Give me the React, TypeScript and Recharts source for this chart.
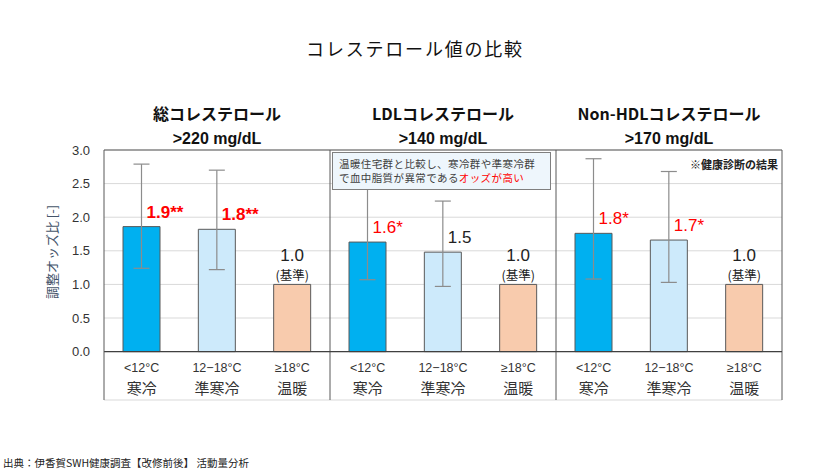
import {
  Bar,
  BarChart,
  CartesianGrid,
  Cell,
  ErrorBar,
  LabelList,
  ReferenceLine,
  XAxis,
  YAxis,
} from "recharts";

const FONT = "'Liberation Sans', 'Noto Sans CJK JP', sans-serif";
const JP = "'Noto Sans CJK JP', 'Liberation Sans', sans-serif";

// panels
const panelTitles = [
  ["総コレステロール", ">220 mg/dL"],
  ["LDLコレステロール", ">140 mg/dL"],
  ["Non-HDLコレステロール", ">170 mg/dL"],
];
const panelBold = [true, false, false];

// groups within each panel
const tempRanges = ["<12°C", "12−18°C", "≥18°C"];
const groupNames = ["寒冷", "準寒冷", "温暖"];
const groupColors = ["#00b0f0", "#cdeafb", "#f8cbad"];

// adjusted odds ratios and 95% CI
const totalOdds = [1.86, 1.82, 1.0];
const totalLow = [1.24, 1.22, null];
const totalHigh = [2.79, 2.7, null];
const totalLabels = ["1.9**", "1.8**", "1.0"];

const ldlOdds = [1.63, 1.48, 1.0];
const ldlLow = [1.07, 0.97, null];
const ldlHigh = [2.55, 2.24, null];
const ldlLabels = ["1.6*", "1.5", "1.0"];

const nonHdlOdds = [1.76, 1.66, 1.0];
const nonHdlLow = [1.08, 1.03, null];
const nonHdlHigh = [2.87, 2.68, null];
const nonHdlLabels = ["1.8*", "1.7*", "1.0"];

const yTicks = [0, 0.5, 1, 1.5, 2, 2.5, 3];
const Y_MAX = 3;
const Y_FLOOR = -0.72; // room under the axis for the category labels

type Row = {
  key: string;
  panel: number;
  group: number;
  odds: number;
  err: [number, number] | null;
  label: string;
};

const panels = [
  [totalOdds, totalLow, totalHigh, totalLabels],
  [ldlOdds, ldlLow, ldlHigh, ldlLabels],
  [nonHdlOdds, nonHdlLow, nonHdlHigh, nonHdlLabels],
] as const;

const rows: Row[] = panels.flatMap(([odds, low, high, labels], p) =>
  odds.map((v, g) => {
    const lo = low[g];
    const hi = high[g];
    return {
      key: `${p}-${g}`,
      panel: p,
      group: g,
      odds: v,
      err: lo != null && hi != null ? [v - lo, hi - v] : null,
      label: labels[g],
    };
  })
);

const rowByKey = new Map(rows.map((r) => [r.key, r]));

function CategoryTick({ x, y, payload }: any) {
  const row = rowByKey.get(payload.value);
  if (!row) return null;
  return (
    <g>
      <text x={x} y={y - 36} textAnchor="middle" fontSize={12.5} fill="#333" fontFamily={FONT}>
        {tempRanges[row.group]}
      </text>
      <text x={x} y={y - 14} textAnchor="middle" fontSize={15} fill="#333" fontFamily={JP}>
        {groupNames[row.group]}
      </text>
    </g>
  );
}

function PanelTitleTick({ x, y, payload }: any) {
  const row = rowByKey.get(payload.value);
  if (!row) return null;
  const [l1, l2] = panelTitles[row.panel];
  return (
    <g fontWeight="bold" fill="#111" textAnchor="middle">
      <text x={x} y={y - 22} fontSize={16} fontFamily={JP}>
        {l1}
      </text>
      <text x={x} y={y + 2} fontSize={16} fontFamily={FONT}>
        {l2}
      </text>
    </g>
  );
}

function ValueLabel(props: any) {
  const { x, y, width, index } = props;
  const row = rows[index];
  if (!row) return null;
  const cx = x + width / 2;
  if (row.err == null) {
    return (
      <g fill="#222" textAnchor="middle">
        <text x={cx} y={y - 23} fontSize={17} fontFamily={FONT}>
          {row.label}
        </text>
        <text x={cx} y={y - 4} fontSize={12.5} fontFamily={JP}>
          (基準)
        </text>
      </g>
    );
  }
  const red = row.label.includes("*");
  return (
    <text
      x={cx + 5}
      y={y - 9}
      fontSize={17}
      fontFamily={FONT}
      fontWeight={red && panelBold[row.panel] ? "bold" : "normal"}
      fill={red ? "#ff0000" : "#222"}
    >
      {row.label}
    </text>
  );
}

export default function App() {
  return (
    <div
      style={{
        position: "absolute",
        left: 0,
        top: 0,
        width: 830,
        height: 470,
        background: "#fff",
        fontFamily: FONT,
      }}
    >
      <div
        style={{
          position: "absolute",
          top: 35,
          width: 830,
          textAlign: "center",
          fontSize: 18,
          letterSpacing: 1.8,
          fontFamily: JP,
          color: "#111",
        }}
      >
        コレステロール値の比較
      </div>

      <BarChart
        width={830}
        height={470}
        data={rows}
        margin={{ top: 100, right: 48, left: 40, bottom: 40 }}
        barSize={37}
      >
        <CartesianGrid vertical={false} stroke="#d9d9d9" />
        <XAxis
          dataKey="key"
          interval={0}
          axisLine={false}
          tickLine={false}
          height={30}
          tick={<CategoryTick />}
        />
        <XAxis
          xAxisId="top"
          orientation="top"
          dataKey="key"
          ticks={["0-1", "1-1", "2-1"]}
          interval={0}
          axisLine={false}
          tickLine={false}
          height={50}
          tick={<PanelTitleTick />}
        />
        <YAxis
          domain={[Y_FLOOR, Y_MAX]}
          ticks={yTicks}
          allowDataOverflow
          width={64}
          tickLine={false}
          tickMargin={8}
          axisLine={{ stroke: "#595959" }}
          tick={{ fontSize: 13, fill: "#333", fontFamily: FONT }}
          tickFormatter={(v: number) => v.toFixed(1)}
        />
        <ReferenceLine y={Y_MAX} stroke="#595959" />
        <ReferenceLine x="1-0" position="start" stroke="#595959" />
        <ReferenceLine x="2-0" position="start" stroke="#595959" />
        <ReferenceLine x="2-2" position="end" stroke="#595959" />
        <Bar dataKey="odds" stroke="#595959" strokeWidth={1} isAnimationActive={false}>
          {rows.map((r) => (
            <Cell key={r.key} fill={groupColors[r.group]} />
          ))}
          <ErrorBar dataKey="err" width={8} stroke="#8c8c8c" strokeWidth={1.2} direction="y" />
          <LabelList dataKey="label" content={<ValueLabel />} />
        </Bar>
        <ReferenceLine y={0} stroke="#404040" strokeWidth={1.2} />
      </BarChart>

      {/* y axis title */}
      <div
        style={{
          position: "absolute",
          left: 52,
          top: 252,
          transform: "translate(-50%, -50%) rotate(-90deg)",
          fontSize: 13,
          lineHeight: "14px",
          color: "#44546a",
          fontFamily: JP,
          whiteSpace: "nowrap",
        }}
      >
        調整オッズ比 [-]
      </div>

      <div
        style={{
          position: "absolute",
          left: 332,
          top: 152,
          width: 219,
          height: 38,
          border: "1px solid #7f7f7f",
          background: "#eef6fc",
          fontSize: 10.5,
          lineHeight: "14px",
          color: "#404040",
          fontFamily: JP,
          padding: "4px 0 0 6px",
          boxSizing: "border-box",
          whiteSpace: "nowrap",
          letterSpacing: 0.4,
        }}
      >
        温暖住宅群と比較し、寒冷群や準寒冷群
        <br />
        で血中脂質が異常である<span style={{ color: "#ff0000" }}>オッズが高い</span>
      </div>

      <div
        style={{
          position: "absolute",
          right: 52,
          top: 156,
          fontSize: 11,
          fontWeight: "bold",
          fontFamily: JP,
          color: "#222",
        }}
      >
        ※健康診断の結果
      </div>

      <div
        style={{
          position: "absolute",
          left: 3,
          top: 455,
          fontSize: 10.5,
          fontFamily: JP,
          color: "#222",
        }}
      >
        出典：伊香賀SWH健康調査【改修前後】 活動量分析
      </div>
    </div>
  );
}
